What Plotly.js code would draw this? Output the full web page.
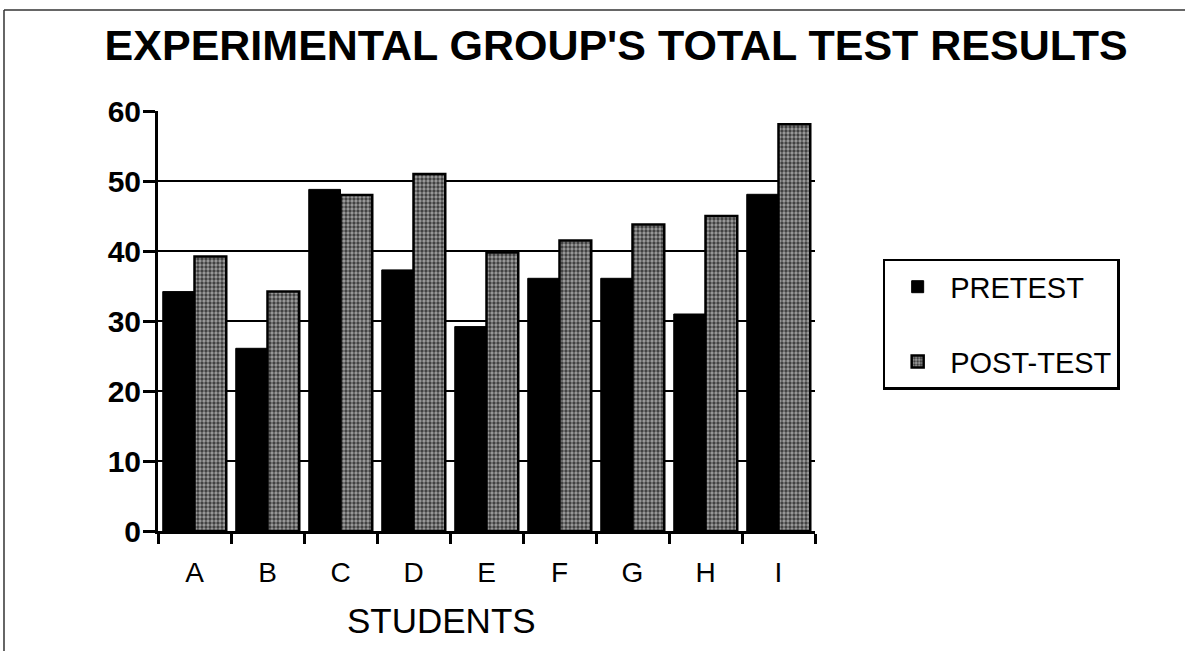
<!DOCTYPE html>
<html>
<head>
<meta charset="utf-8">
<script src="https://cdn.plot.ly/plotly-3.0.1.min.js"></script>
<style>html,body{margin:0;padding:0;background:#fff;}#chart{width:1185px;height:651px;}</style>
</head>
<body>
<div id="chart"></div>
<script>
const students = ["A", "B", "C", "D", "E", "F", "G", "H", "I"];
const pretest  = [34.2, 26.1, 48.8, 37.3, 29.2, 36.1, 36.1, 31.0, 48.1];
const posttest = [39.2, 34.2, 48.0, 51.0, 39.8, 41.5, 43.8, 45.0, 58.1];
const yTicks = [0, 10, 20, 30, 40, 50, 60];

const FONT = '"Liberation Sans", Arial, Helvetica, sans-serif';

const traces = [
  {
    type: 'bar', name: 'PRETEST', x: students, y: pretest,
    legendgroup: 'pre',
    marker: {color: '#000000', line: {color: '#000000', width: 1}}
  },
  {
    type: 'bar', name: 'POST-TEST', x: students, y: posttest,
    legendgroup: 'post',
    marker: {
      color: '#3a3a3a',
      line: {color: '#000000', width: 2.5},
      pattern: {shape: '.', bgcolor: '#3a3a3a', fgcolor: '#f4f4f4', size: 4, solidity: 0.55, fillmode: 'overlay'}
    }
  }
];

const layout = {
  width: 1185, height: 651,
  paper_bgcolor: '#ffffff', plot_bgcolor: '#ffffff',
  margin: {l: 158, r: 370, t: 111, b: 120},
  font: {family: FONT, color: '#000000'},
  title: {
    text: "EXPERIMENTAL GROUP'S TOTAL TEST RESULTS",
    font: {family: FONT, size: 43, weight: 'bold', color: '#000000'},
    xref: 'container', yref: 'container',
    x: 0.52, xanchor: 'center', y: 0.931, yanchor: 'middle'
  },
  barmode: 'group', bargap: 0.13, bargroupgap: 0,
  xaxis: {
    type: 'category',
    showline: true, linecolor: '#000000', linewidth: 3,
    ticks: 'outside', tickson: 'boundaries', ticklen: 10, tickwidth: 3, tickcolor: '#000000',
    showgrid: false, zeroline: false,
    ticklabelstandoff: 14,
    tickfont: {family: FONT, size: 28, color: '#000000'}
  },
  yaxis: {
    range: [0, 60], tickvals: yTicks, ticktext: yTicks.map(String),
    showline: true, linecolor: '#000000', linewidth: 3,
    ticks: 'outside', ticklen: 12, tickwidth: 3, tickcolor: '#000000',
    showgrid: true, gridcolor: '#000000', gridwidth: 2.5,
    zeroline: false,
    ticklabelstandoff: -4,
    tickfont: {family: FONT, size: 30, weight: 'bold', color: '#000000'}
  },
  showlegend: true,
  legend: {
    x: 1.103, xanchor: 'left', y: 0.648, yanchor: 'top',
    bordercolor: '#000000', borderwidth: 2.5, bgcolor: '#ffffff',
    font: {family: FONT, size: 29, color: '#000000'},
    tracegroupgap: 34, traceorder: 'grouped',
    itemwidth: 55
  },
  annotations: [
    {
      text: 'STUDENTS', xref: 'paper', yref: 'paper',
      x: 0.432, y: -0.212, xanchor: 'center', yanchor: 'middle',
      showarrow: false, font: {family: FONT, size: 35, color: '#000000'}
    }
  ],
  shapes: [
    {type: 'line', xref: 'paper', yref: 'paper', x0: -0.2344, x1: -0.2344, y0: 1.2405, y1: -0.3,
     line: {color: '#333333', width: 1.5}},
    {type: 'line', xref: 'paper', yref: 'paper', x0: -0.2344, x1: 1.57, y0: 1.2405, y1: 1.2405,
     line: {color: '#333333', width: 1.5}}
  ]
};

Plotly.newPlot('chart', traces, layout, {displayModeBar: false, staticPlot: true});
</script>
</body>
</html>
